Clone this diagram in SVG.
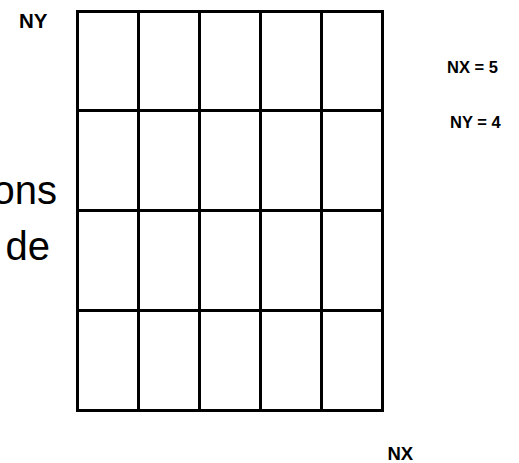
<svg xmlns="http://www.w3.org/2000/svg" width="519" height="463" viewBox="0 0 519 463">
<style>
.g{stroke:#000;stroke-width:3;fill:none}
.lb{font-family:"Liberation Sans",Arial,sans-serif;font-weight:bold;fill:#000}
.bg{font-family:"Liberation Sans",Arial,sans-serif;fill:#000;font-size:40px}
</style>
<rect width="519" height="463" fill="#fff"/>
<g id="side-text">
<text class="bg" x="57" y="204" text-anchor="end">ons</text>
<text class="bg" x="50" y="260" text-anchor="end">de</text>
</g>
<g id="grid">
<rect class="g" x="77.5" y="11.5" width="305" height="399"/>
<path class="g" d="M138.5 11.5V410.5M199.5 11.5V410.5M260.5 11.5V410.5M321.5 11.5V410.5M77.5 110.5H382.5M77.5 210.5H382.5M77.5 310.5H382.5"/>
</g>
<g id="labels">
<text class="lb" x="19" y="28" font-size="20.5">NY</text>
<text class="lb" x="447" y="72.5" font-size="16.5">NX = 5</text>
<text class="lb" x="450" y="127.5" font-size="16.5">NY = 4</text>
<text class="lb" x="387.5" y="460" font-size="18.5">NX</text>
</g>
</svg>
